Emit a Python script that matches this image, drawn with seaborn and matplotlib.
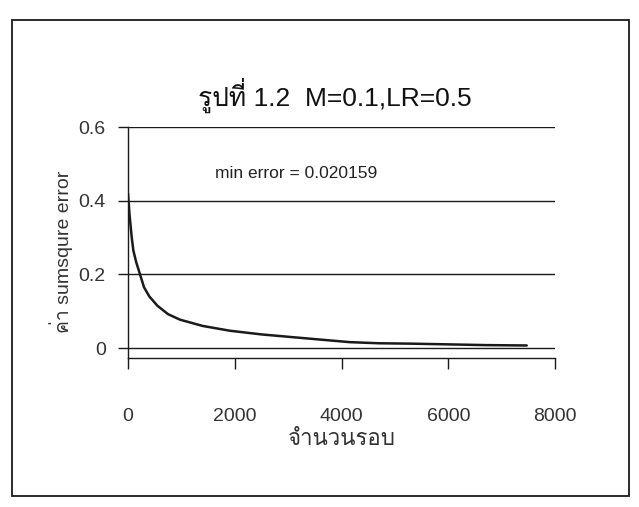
import matplotlib
matplotlib.use("Agg")
import matplotlib.pyplot as plt
from matplotlib import font_manager
from matplotlib.ft2font import FT2Font
from matplotlib.patches import Rectangle
import seaborn as sns
import pandas as pd

# ---- data ----
iterations = [0, 30, 70, 100, 150, 225, 300, 400, 550, 750, 975, 1400, 1910,
              2500, 2970, 3600, 4160, 4700, 5280, 6000, 6700, 7470]
errors = [0.42, 0.36, 0.30, 0.265, 0.235, 0.20, 0.165, 0.14, 0.115, 0.092,
          0.077, 0.06, 0.047, 0.037, 0.031, 0.023, 0.016, 0.013, 0.012, 0.010,
          0.008, 0.007]
x_ticks = [0, 2000, 4000, 6000, 8000]
y_ticks = [0, 0.2, 0.4, 0.6]
y_tick_labels = ["0", "0.2", "0.4", "0.6"]
title_text = "รูปที่ 1.2  M=0.1,LR=0.5"
x_label = "จำนวนรอบ"
y_label = "ค่า sumsqure error"
note_text = "min error = 0.020159"

df = pd.DataFrame({"iter": iterations, "err": errors})

sns.set_style("white")

# find a font with Thai glyphs
thai_font = None
for fe in font_manager.fontManager.ttflist:
    try:
        cm = FT2Font(fe.fname).get_charmap()
    except Exception:
        continue
    if 0x0E01 in cm and 0x0E23 in cm:
        thai_font = fe.name
        break
families = ["Liberation Sans"]
if thai_font:
    families.append(thai_font)
families.append("DejaVu Sans")
plt.rcParams["font.family"] = families

ink = "#1a1a1a"
fig = plt.figure(figsize=(6.39, 5.07), dpi=100)
fig.patch.set_facecolor("white")
fig.patches.append(Rectangle((12 / 639, 11 / 507), 617 / 639, 476 / 507,
                             transform=fig.transFigure, fill=False,
                             edgecolor=ink, linewidth=1.3))

ax = fig.add_axes([128 / 639, (507 - 358) / 507, 427 / 639, 231 / 507])
ax.set_facecolor("white")
for yv in y_ticks:
    ax.axhline(yv, color=ink, linewidth=1.0, zorder=1)
sns.lineplot(data=df, x="iter", y="err", ax=ax, color=ink, linewidth=1.8,
             zorder=3)
ax.set_xlim(0, 8000)
ax.set_ylim(-0.027, 0.6)
ax.set_xticks(x_ticks)
ax.set_xticklabels([str(v) for v in x_ticks])
ax.set_yticks(y_ticks)
ax.set_yticklabels(y_tick_labels)
for s in ["top", "right"]:
    ax.spines[s].set_visible(False)
for s in ["left", "bottom"]:
    ax.spines[s].set_color(ink)
    ax.spines[s].set_linewidth(1.0)
ax.tick_params(axis="x", bottom=True, direction="out", length=8, width=1.0,
               color=ink, pad=28, labelsize=14, labelcolor="#333333")
ax.tick_params(axis="y", left=True, direction="out", length=7, width=1.0,
               color=ink, pad=9, labelsize=14, labelcolor="#333333")
ax.set_xlabel(x_label, fontsize=16, color="#333333", labelpad=3)
ax.set_ylabel(y_label, fontsize=14, color="#333333")
ax.yaxis.set_label_coords(-0.128, 0.46)
ax.text(1630, 0.473, note_text, fontsize=12.5, color="#222222",
        ha="left", va="center")
fig.text(335 / 639, (507 - 95) / 507, title_text, fontsize=19, color="#111111",
         ha="center", va="center")

fig.savefig("out.png", dpi=100, facecolor="white")
